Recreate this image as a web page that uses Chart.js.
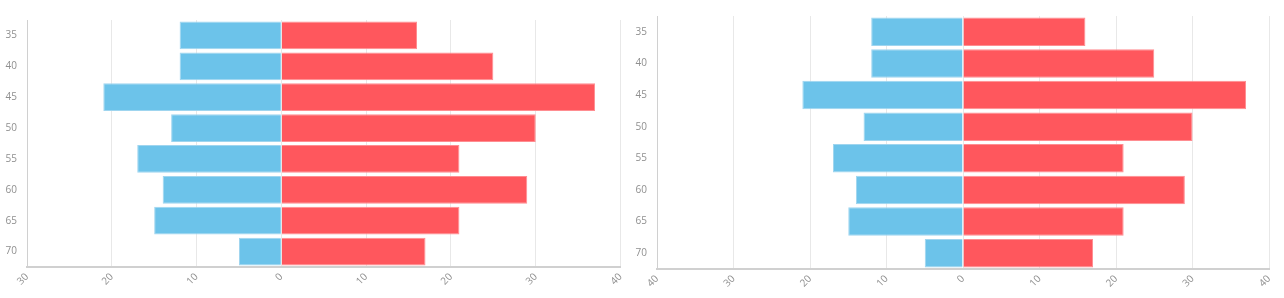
<!DOCTYPE html>
<html>
<head>
<meta charset="utf-8">
<script src="https://cdn.jsdelivr.net/npm/chart.js@4/dist/chart.umd.min.js"></script>
<style>
  html, body { margin: 0; padding: 0; background: #fff; overflow: hidden; }
  .box { position: absolute; top: 0; height: 298px; }
  #b1 { left: 0; width: 633px; }
  #b2 { left: 630px; width: 654px; }
</style>
</head>
<body>
<div class="box" id="b1"><canvas id="c1"></canvas></div>
<div class="box" id="b2"><canvas id="c2"></canvas></div>
<script>
const categories = ['35', '40', '45', '50', '55', '60', '65', '70'];
const leftSeries = [-12, -12, -21, -13, -17, -14, -15, -5];
const rightSeries = [16, 25, 37, 30, 21, 29, 21, 17];
const chart1Range = [-30, 40];
const chart2Range = [-40, 40];

const BLUE = '#6cc3ea', BLUE_B = '#9fd5ef';
const RED = '#ff575d', RED_B = '#ff8d91';
const TICK_COLOR = '#8f8f8f';
const FONT = { family: "'Open Sans', sans-serif", size: 10 };

function makeChart(id, range, pad, yWidth, xHeight) {
  return new Chart(document.getElementById(id), {
    type: 'bar',
    data: {
      labels: categories,
      datasets: [
        { data: leftSeries, backgroundColor: BLUE, borderColor: BLUE_B, borderWidth: 1,
          barPercentage: 0.9, categoryPercentage: 1.0 },
        { data: rightSeries, backgroundColor: RED, borderColor: RED_B, borderWidth: 1,
          barPercentage: 0.9, categoryPercentage: 1.0 }
      ]
    },
    options: {
      indexAxis: 'y',
      responsive: true,
      maintainAspectRatio: false,
      animation: false,
      layout: { padding: pad },
      plugins: { legend: { display: false }, tooltip: { enabled: false } },
      scales: {
        x: {
          stacked: true,
          min: range[0], max: range[1],
          afterFit: s => { s.height = xHeight; },
          grid: { color: '#e8e8e8', drawTicks: false, lineWidth: 1 },
          border: { display: true, color: '#d0d0d0', width: 2 },
          ticks: {
            stepSize: 10, color: TICK_COLOR, font: FONT, padding: 4,
            minRotation: 45, maxRotation: 45,
            callback: v => String(Math.abs(v))
          }
        },
        y: {
          stacked: true,
          afterFit: s => { s.width = yWidth; },
          grid: { display: true, drawOnChartArea: false, drawTicks: false, color: 'rgba(0,0,0,0)' },
          border: { display: true, color: '#d0d0d0', width: 1 },
          ticks: { color: TICK_COLOR, font: FONT, padding: 10 }
        }
      }
    }
  });
}

makeChart('c1', chart1Range, { top: 20, right: 7, bottom: 0, left: 0 }, 27, 31);
makeChart('c2', chart2Range, { top: 15, right: 15, bottom: 0, left: 0 }, 27, 29);
</script>
</body>
</html>
